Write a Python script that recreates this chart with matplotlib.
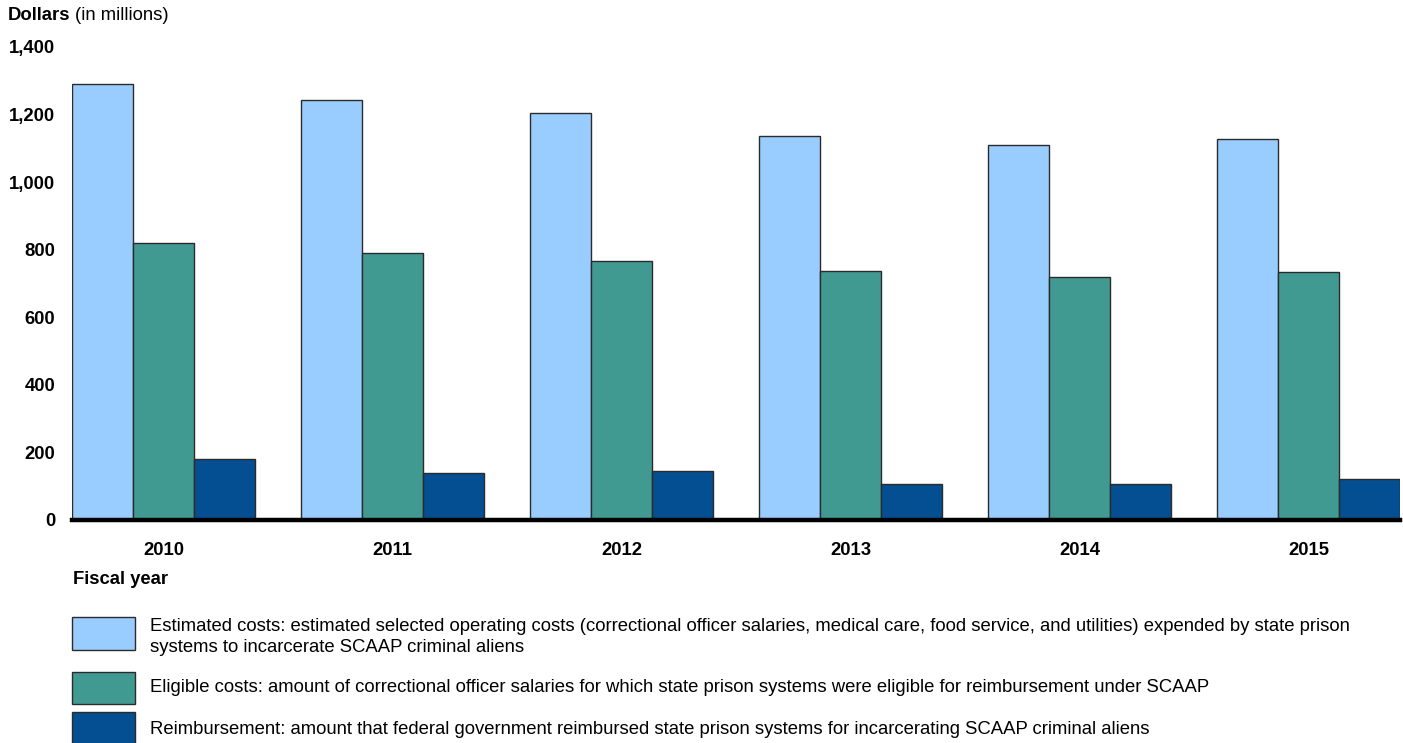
import numpy as np
import matplotlib
matplotlib.use('Agg')
import matplotlib.pyplot as plt
from matplotlib.patches import Rectangle

plt.rcParams['font.family'] = ['Liberation Sans', 'DejaVu Sans']

# --- Data (millions of dollars) ---
years = ['2010', '2011', '2012', '2013', '2014', '2015']
estimated = [1290, 1243, 1205, 1137, 1110, 1129]
eligible = [821, 791, 768, 737, 718, 735]
reimbursed = [181, 139, 145, 106, 106, 121]

series_labels = [
    'Estimated costs: estimated selected operating costs (correctional officer salaries, medical care, food service, and utilities) expended by state prison\nsystems to incarcerate SCAAP criminal aliens',
    'Eligible costs: amount of correctional officer salaries for which state prison systems were eligible for reimbursement under SCAAP',
    'Reimbursement: amount that federal government reimbursed state prison systems for incarcerating SCAAP criminal aliens',
]
colors = ['#99ccff', '#419a91', '#044f92']
edge = '#2b2b2b'
fs = 13.3

W, H = 1403, 743
fig = plt.figure(figsize=(W / 100, H / 100), dpi=100)
ax = fig.add_axes([72 / W, 1 - 520 / H, (1400 - 72) / W, (520 - 47) / H])

x = np.arange(len(years))
bw = 0.8 / 3
for i, vals in enumerate([estimated, eligible, reimbursed]):
    ax.bar(x - 0.4 + bw * (i + 0.5), vals, width=bw, color=colors[i],
           edgecolor=edge, linewidth=1.0, zorder=2)

ax.set_xlim(-0.4, len(years) - 0.6)
ax.set_ylim(0, 1400)
ax.set_yticks(np.arange(0, 1401, 200))
ax.set_yticklabels([f'{v:,}' for v in range(0, 1401, 200)], fontsize=fs, fontweight='bold')
ax.set_xticks(x)
ax.set_xticklabels(years, fontsize=fs, fontweight='bold')
ax.tick_params(length=0)
ax.tick_params(axis='x', pad=16)
ax.tick_params(axis='y', pad=12)
for s in ['top', 'right', 'left']:
    ax.spines[s].set_visible(False)
ax.spines['bottom'].set_linewidth(3.2)
ax.spines['bottom'].set_zorder(3)

# titles
fig.text(8 / W, 1 - 16 / H, 'Dollars', fontsize=fs, fontweight='bold', va='center', ha='left')
fig.text(75 / W, 1 - 16 / H, '(in millions)', fontsize=fs, va='center', ha='left')
fig.text(73 / W, 1 - 579 / H, 'Fiscal year', fontsize=fs, fontweight='bold', va='center', ha='left')

# legend
boxes = [(617, 650), (672, 704), (712, 745)]
text_y = [637, 688, 729]
for (y0, y1), ty, c, lab in zip(boxes, text_y, colors, series_labels):
    fig.patches.append(Rectangle((72 / W, 1 - y1 / H), (135 - 72) / W, (y1 - y0) / H,
                                 transform=fig.transFigure, facecolor=c,
                                 edgecolor=edge, linewidth=1.0))
    fig.text(150 / W, 1 - ty / H, lab, fontsize=fs, va='center', ha='left',
             linespacing=1.3)

fig.savefig('out.png', dpi=100)
